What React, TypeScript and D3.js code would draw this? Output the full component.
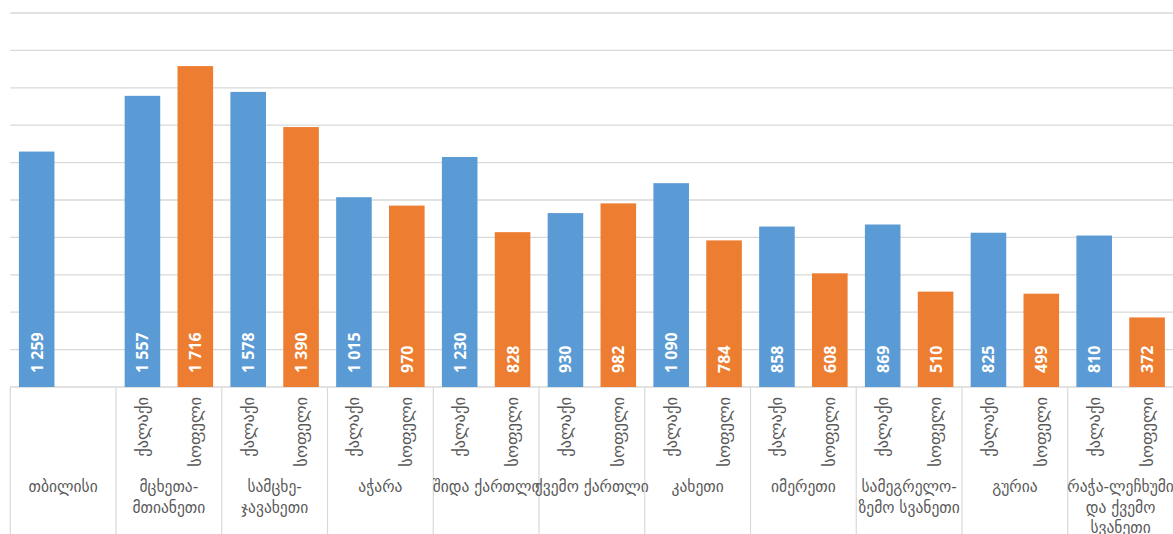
import React from "react";
import * as d3 from "d3";

// Regions (category axis); each label line is one array entry
const regions: string[][] = [
  ["თბილისი"],
  ["მცხეთა-", "მთიანეთი"],
  ["სამცხე-", "ჯავახეთი"],
  ["აჭარა"],
  ["შიდა ქართლი"],
  ["ქვემო ქართლი"],
  ["კახეთი"],
  ["იმერეთი"],
  ["სამეგრელო-", "ზემო სვანეთი"],
  ["გურია"],
  ["რაჭა-ლეჩხუმი", "და ქვემო", "სვანეთი"],
];

const seriesKeys = ["city", "village"];
const seriesNames = ["ქალაქი", "სოფელი"];
const cityValues: number[] = [1259, 1557, 1578, 1015, 1230, 930, 1090, 858, 869, 825, 810];
const villageValues: (number | null)[] = [null, 1716, 1390, 970, 828, 982, 784, 608, 510, 499, 372];
const gridTicks: number[] = [0, 200, 400, 600, 800, 1000, 1200, 1400, 1600, 1800, 2000];

const W = 1173;
const H = 534;
const left = 10.25;
const right = 1173.5;
const baseY = 387;
const topY = 13;

const colors: Record<string, string> = { city: "#5B9BD5", village: "#ED7D31" };

const fmt = (v: number) => {
  const s = String(v);
  return s.length > 3 ? s.slice(0, s.length - 3) + " " + s.slice(-3) : s;
};

export default function App() {
  const x0 = d3
    .scaleBand<number>()
    .domain(regions.map((_, i) => i))
    .range([left, right])
    .padding(0);
  const x1 = d3.scaleBand<string>().domain(seriesKeys).range([0, x0.bandwidth()]).padding(0);
  const barW = x1.bandwidth() * 0.673;
  const y = d3.scaleLinear().domain([0, 2000]).range([baseY, topY]);

  const bars: { key: string; i: number; v: number }[] = [];
  regions.forEach((_, i) => {
    bars.push({ key: "city", i, v: cityValues[i] });
    const vv = villageValues[i];
    if (vv !== null) bars.push({ key: "village", i, v: vv });
  });

  const georgian = "'DejaVu Sans', sans-serif";

  return (
    <svg
      width={W}
      height={H}
      style={{ position: "absolute", left: 0, top: 0, background: "#fff" }}
    >
      {gridTicks.map((t) => (
        <line
          key={t}
          x1={left}
          x2={W}
          y1={y(t)}
          y2={y(t)}
          stroke="#d9d9d9"
          strokeWidth={1.3}
        />
      ))}
      {x0.domain().map((i) => (
        <line
          key={"sep" + i}
          x1={x0(i)!}
          x2={x0(i)!}
          y1={baseY}
          y2={H}
          stroke="#d9d9d9"
          strokeWidth={1.2}
        />
      ))}
      {bars.map((b) => {
        const cx = x0(b.i)! + x1(b.key)! + x1.bandwidth() / 2;
        return (
          <g key={b.key + b.i}>
            <rect
              x={cx - barW / 2}
              y={y(b.v)}
              width={barW}
              height={baseY - y(b.v)}
              fill={colors[b.key]}
            />
            <text
              transform={`translate(${cx},${baseY - 14}) rotate(-90)`}
              textAnchor="start"
              dominantBaseline="central"
              fill="#fff"
              fontWeight="bold"
              fontSize={16}
              fontFamily="'Open Sans', sans-serif"
            >
              {fmt(b.v)}
            </text>
          </g>
        );
      })}
      {regions.map((lines, i) =>
        i === 0
          ? null
          : seriesKeys.map((k, j) => {
              const cx = x0(i)! + x1(k)! + x1.bandwidth() / 2;
              return (
                <text
                  key={"sub" + i + k}
                  transform={`translate(${cx},${baseY + 10}) rotate(-90)`}
                  textAnchor="end"
                  dominantBaseline="central"
                  fill="#595959"
                  fontSize={16.5}
                  fontFamily={georgian}
                >
                  {seriesNames[j]}
                </text>
              );
            })
      )}
      {regions.map((lines, i) => {
        const cx = x0(i)! + x0.bandwidth() / 2;
        return (
          <text
            key={"cat" + i}
            textAnchor="middle"
            fill="#595959"
            fontSize={15.5}
            fontFamily={georgian}
          >
            {lines.map((l, k) => (
              <tspan key={k} x={cx} y={492 + k * 20.5}>
                {l}
              </tspan>
            ))}
          </text>
        );
      })}
    </svg>
  );
}
